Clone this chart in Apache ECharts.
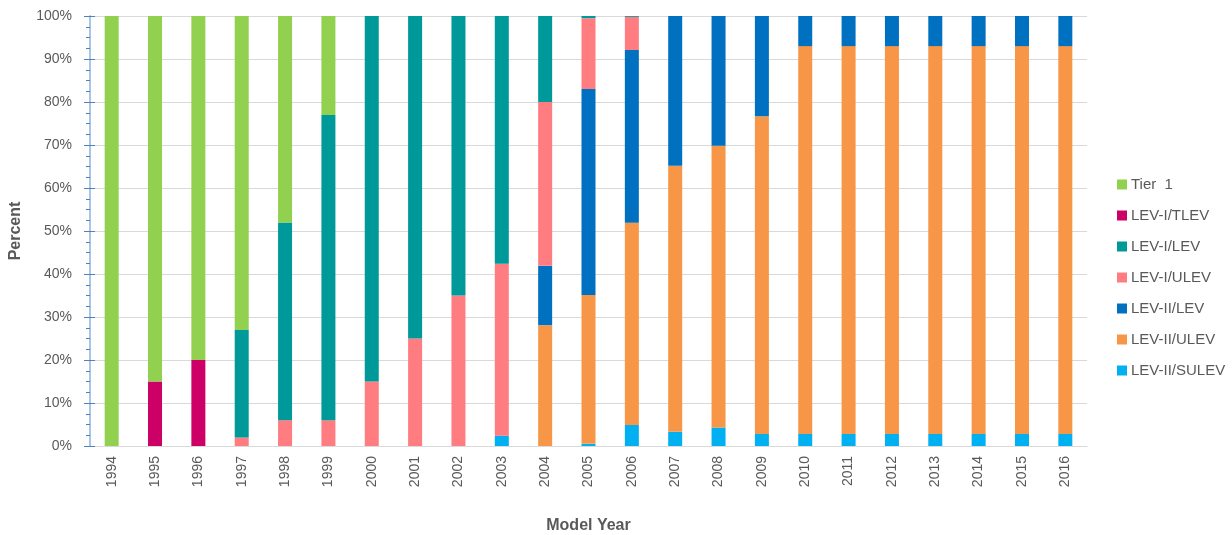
<!DOCTYPE html>
<html>
<head>
<meta charset="utf-8">
<script src="https://cdn.jsdelivr.net/npm/echarts@6/dist/echarts.min.js"></script>
<style>html,body{margin:0;padding:0;background:#fff}#c{width:1232px;height:535px}</style>
</head>
<body>
<div id="c"></div>
<script>
const years = ['1994','1995','1996','1997','1998','1999','2000','2001','2002','2003','2004','2005','2006','2007','2008','2009','2010','2011','2012','2013','2014','2015','2016'];
const yTicks = [0,10,20,30,40,50,60,70,80,90,100];
// series values (percent), bottom to top of stack
const lev2Sulev = [0,0,0,0,0,0,0,0,0,2.4,0,0.5,4.9,3.3,4.3,2.8,2.8,2.8,2.8,2.8,2.8,2.8,2.8];
const lev2Ulev  = [0,0,0,0,0,0,0,0,0,0,28.1,34.6,47.0,61.9,65.5,73.9,90.2,90.2,90.2,90.2,90.2,90.2,90.2];
const lev2Lev   = [0,0,0,0,0,0,0,0,0,0,13.8,47.9,40.2,34.8,30.2,23.3,7.0,7.0,7.0,7.0,7.0,7.0,7.0];
const lev1Ulev  = [0,0,0,2,6,6,15,25,35,40,38.1,16.5,7.7,0,0,0,0,0,0,0,0,0,0];
const lev1Lev   = [0,0,0,25,46,71,85,75,65,57.6,20,0.5,0.2,0,0,0,0,0,0,0,0,0,0];
const lev1Tlev  = [0,15,20,0,0,0,0,0,0,0,0,0,0,0,0,0,0,0,0,0,0,0,0];
const tier1     = [100,85,80,73,48,23,0,0,0,0,0,0,0,0,0,0,0,0,0,0,0,0,0];

const seriesDefs = [
  {name:'LEV-II/SULEV', data:lev2Sulev, color:'#00B0F0'},
  {name:'LEV-II/ULEV', data:lev2Ulev, color:'#F79646'},
  {name:'LEV-II/LEV', data:lev2Lev, color:'#0070C0'},
  {name:'LEV-I/ULEV', data:lev1Ulev, color:'#FF7C80'},
  {name:'LEV-I/LEV', data:lev1Lev, color:'#009999'},
  {name:'LEV-I/TLEV', data:lev1Tlev, color:'#CC0066'},
  {name:'Tier  1', data:tier1, color:'#92D050'}
];
const legendOrder = seriesDefs.map(s=>s.name).reverse();
const font = "'Liberation Sans', Arial, sans-serif";

const chart = echarts.init(document.getElementById('c'), null, {renderer:'canvas'});
chart.setOption({
  animation:false,
  textStyle:{fontFamily:font},
  grid:{left:90, right:145, top:16, bottom:89, containLabel:false, outerBoundsMode:'none'},
  legend:{
    orient:'vertical', left:1112, top:172, itemGap:16, itemWidth:10, itemHeight:10,
    icon:'rect', data:legendOrder,
    textStyle:{color:'#595959', fontSize:15, fontFamily:font, padding:[0,0,0,-1]}
  },
  xAxis:{
    type:'category', data:years,
    name:'Model Year', nameLocation:'middle', nameGap:72,
    nameTextStyle:{fontSize:16, fontWeight:'bold', color:'#595959', fontFamily:font},
    axisLine:{lineStyle:{color:'#D9D9D9', width:1}},
    axisTick:{show:false},
    axisLabel:{rotate:90, color:'#595959', fontSize:14, margin:10, fontFamily:font}
  },
  yAxis:[{
    type:'value', min:0, max:100, interval:10,
    name:'Percent', nameLocation:'middle', nameGap:66, nameRotate:90,
    nameTextStyle:{fontSize:16, fontWeight:'bold', color:'#595959', fontFamily:font},
    axisLine:{show:true, lineStyle:{color:'#A9C6EA', width:2}},
    axisTick:{show:true, length:6, lineStyle:{color:'#4F81BD', width:1}},
    minorTick:{show:true, splitNumber:4, length:4, lineStyle:{color:'#4F81BD'}},
    axisLabel:{color:'#595959', fontSize:14, margin:18, fontFamily:font,
      formatter:v=>yTicks.includes(v)? v+'%' : ''},
    splitLine:{show:true, lineStyle:{color:'#D9D9D9', width:1}}
  },{
    type:'value', min:0, max:100, interval:10, position:'left',
    axisLine:{show:false}, axisLabel:{show:false}, splitLine:{show:false},
    axisTick:{show:true, inside:true, length:5, lineStyle:{color:'#4F81BD', width:1}}
  }],
  series: seriesDefs.map(s=>({
    name:s.name, type:'bar', stack:'total', data:s.data, barWidth:14,
    itemStyle:{color:s.color}
  }))
});
</script>
</body>
</html>
